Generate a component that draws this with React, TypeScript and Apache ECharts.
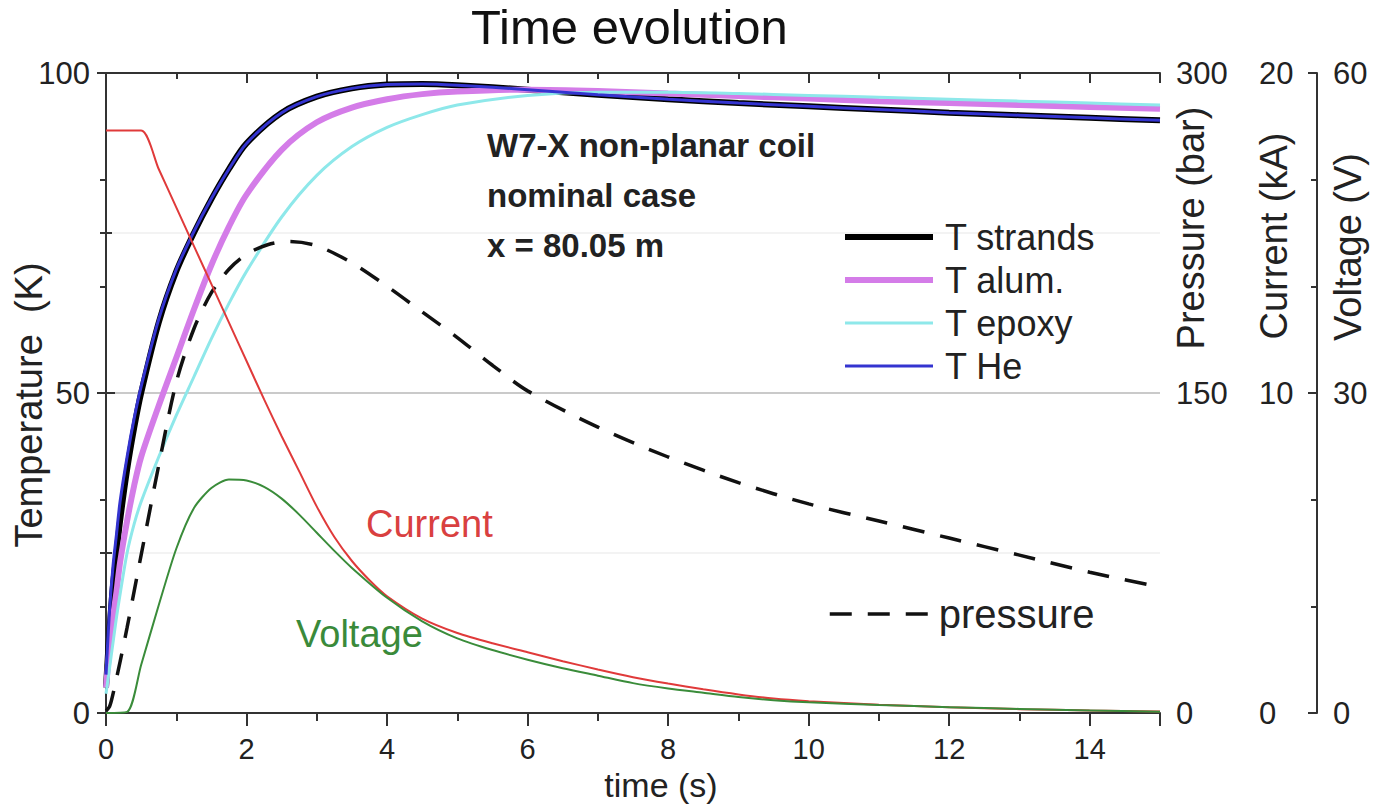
import React, { useEffect, useRef } from "react";
import * as echarts from "echarts";

// ---- data ----
const tTemp = [0, 0.05, 0.1, 0.15, 0.2, 0.3, 0.4, 0.5, 0.75, 1.0, 1.25, 1.5, 1.75, 2.0, 2.5, 3.0, 3.5, 4.0, 4.5, 5, 6, 7, 8, 9, 10, 11, 12, 13, 14, 15];
const tStrands = [4, 13, 20, 25, 30, 38, 44.5, 50, 61, 69, 75, 80.3, 85, 89, 93.8, 96.3, 97.6, 98.2, 98.3, 98.1, 97.4, 96.6, 95.9, 95.3, 94.8, 94.3, 93.8, 93.4, 93.0, 92.6];
const tAlum = [4, 10, 15, 19, 23.5, 30, 35.5, 40, 48, 55.5, 63, 70, 76, 81, 88, 92.3, 94.6, 95.9, 96.7, 97.1, 97.4, 97.2, 96.8, 96.4, 96.0, 95.6, 95.3, 95.0, 94.7, 94.4];
const tEpoxy = [3, 7, 11, 15, 18.5, 25, 29.5, 33, 40, 46.5, 52.5, 58.5, 64, 69, 77.5, 84, 88.5, 91.5, 93.5, 95, 96.5, 97.0, 97.0, 96.8, 96.5, 96.2, 95.9, 95.6, 95.3, 95.0];
const tHe = [6, 16, 23, 28, 33, 40, 46, 51, 61.5, 69.3, 75.2, 80.4, 85, 89, 93.8, 96.3, 97.6, 98.2, 98.3, 98.1, 97.4, 96.6, 95.9, 95.3, 94.8, 94.3, 93.8, 93.4, 93.0, 92.6];

const tPress = [0, 0.05, 0.1, 0.2, 0.3, 0.5, 0.75, 1.0, 1.25, 1.5, 1.75, 2.0, 2.3, 2.6, 3.0, 3.5, 4.0, 4.5, 5, 5.5, 6, 7, 8, 9, 10, 11, 12, 13, 14, 15];
const pressure = [1, 3, 9, 24, 40, 74, 116, 155, 180, 197, 208, 215, 219.5, 221, 219, 211, 200, 188, 176, 163, 151, 134, 120, 108, 98, 90, 82, 74, 66, 59];

const tCurr = [0, 0.5, 0.75, 1.0, 1.25, 1.5, 1.75, 2.0, 2.25, 2.5, 2.75, 3.0, 3.25, 3.5, 3.75, 4.0, 4.5, 5, 5.5, 6, 6.5, 7, 7.5, 8, 8.5, 9, 9.5, 10, 11, 12, 13, 14, 15];
const current = [18.2, 18.2, 17.0, 15.8, 14.6, 13.4, 12.2, 11.0, 9.8, 8.65, 7.55, 6.45, 5.5, 4.75, 4.15, 3.65, 2.95, 2.5, 2.18, 1.9, 1.62, 1.36, 1.12, 0.92, 0.74, 0.58, 0.45, 0.37, 0.26, 0.18, 0.12, 0.08, 0.05];

const tVolt = [0, 0.3, 0.5, 0.75, 1.0, 1.25, 1.5, 1.75, 2.0, 2.25, 2.5, 2.75, 3.0, 3.25, 3.5, 4.0, 4.5, 5, 5.5, 6, 6.5, 7, 7.5, 8, 8.5, 9, 9.5, 10, 11, 12, 13, 14, 15];
const voltage = [0, 0.1, 4.5, 10.1, 15.4, 19.2, 21.1, 21.9, 21.8, 21.2, 20.1, 18.6, 16.9, 15.2, 13.6, 10.8, 8.6, 7.0, 5.9, 5.0, 4.2, 3.5, 2.8, 2.3, 1.9, 1.5, 1.2, 1.0, 0.75, 0.55, 0.38, 0.24, 0.12];

const FONT = "'Liberation Sans', Arial, Helvetica, sans-serif";
const AX = "#333";
const TXT = "#222";

const zip = (t: number[], v: number[]) => t.map((x, i) => [x, v[i]]);

export default function App() {
  const ref = useRef<HTMLDivElement>(null);
  useEffect(() => {
    if (!ref.current) return;
    const chart = echarts.init(ref.current, undefined, { renderer: "svg" });
    const rightAxis = (name: string, max: number, interval: number, offset: number, minorSplit: number, shift: number) => ({
      type: "value",
      position: "right",
      offset,
      min: 0,
      max,
      interval,
      name,
      nameLocation: "middle",
      nameRotate: 90,
      nameGap: 12,
      nameMoveOverlap: false,
      nameTextStyle: { fontSize: 38, color: TXT, fontFamily: FONT, padding: [0, 0, 0, shift] },
      axisLine: { show: true, lineStyle: { color: AX, width: 2 } },
      axisTick: { show: true, inside: true, length: 9, lineStyle: { color: AX, width: 2 } },
      minorTick: { show: true, splitNumber: minorSplit, length: 6, lineStyle: { color: AX, width: 2 } },
      axisLabel: { fontSize: 31, color: TXT, fontFamily: FONT, margin: 16 },
      splitLine: { show: false },
    });
    const legendItem = (name: string, color: string, width: number, type: any = "solid") => ({
      name,
      itemStyle: { opacity: 0 },
      lineStyle: { color, width, type },
    });
    chart.setOption({
      animation: false,
      backgroundColor: "#fff",
      title: {
        text: "Time evolution",
        left: 471,
        top: 2,
        padding: 0,
        textStyle: { fontSize: 49, fontWeight: "normal", color: "#111", fontFamily: FONT },
      },
      grid: { left: 106, right: 215, top: 73, bottom: 91, containLabel: false, outerBoundsMode: "none" },
      legend: [
        {
          data: [
            legendItem("T strands", "#000", 6),
            legendItem("T alum.", "#d47ce8", 6),
            legendItem("T epoxy", "#8ee8ea", 3),
            legendItem("T He", "#3434d0", 3),
          ],
          orient: "vertical",
          left: 842,
          top: 219,
          padding: 0,
          itemWidth: 88,
          itemHeight: 14,
          itemGap: 7,
          selectedMode: false,
          itemStyle: { opacity: 0 },
          textStyle: { fontSize: 36, lineHeight: 36, color: TXT, fontFamily: FONT, padding: [0, 0, 0, 7] },
        },
        {
          data: [legendItem("pressure", "#111", 3.5, [22, 16])],
          orient: "vertical",
          left: 828,
          top: 594,
          padding: 0,
          itemWidth: 99,
          itemHeight: 14,
          selectedMode: false,
          itemStyle: { opacity: 0 },
          textStyle: { fontSize: 40, lineHeight: 36, color: TXT, fontFamily: FONT, padding: [0, 0, 0, 5] },
        },
      ],
      xAxis: [
        {
          type: "value",
          min: 0,
          max: 15,
          interval: 2,
          name: "time (s)",
          nameLocation: "middle",
          nameGap: 56,
          nameMoveOverlap: false,
          nameTextStyle: { fontSize: 34, lineHeight: 32, color: TXT, fontFamily: FONT, padding: [0, 0, 0, 56] },
          axisLine: { show: true, onZero: false, lineStyle: { color: AX, width: 2 } },
          axisTick: { show: true, inside: false, length: 13, lineStyle: { color: AX, width: 2 } },
          minorTick: { show: true, splitNumber: 2, length: 8, lineStyle: { color: AX, width: 2 } },
          axisLabel: { fontSize: 29, lineHeight: 28, color: TXT, fontFamily: FONT, margin: 22, showMaxLabel: false },
          splitLine: { show: false },
        },
        {
          type: "value",
          position: "top",
          min: 0,
          max: 15,
          interval: 2,
          axisLine: { show: true, onZero: false, lineStyle: { color: AX, width: 2 } },
          axisTick: { show: true, inside: true, length: 10, lineStyle: { color: AX, width: 2 } },
          minorTick: { show: true, splitNumber: 2, length: 6, lineStyle: { color: AX, width: 2 } },
          axisLabel: { show: false },
          splitLine: { show: false },
        },
      ],
      yAxis: [
        {
          type: "value",
          position: "left",
          min: 0,
          max: 100,
          interval: 50,
          name: "Temperature  (K)",
          nameLocation: "middle",
          nameRotate: 90,
          nameGap: 58,
          nameMoveOverlap: false,
          nameTextStyle: { fontSize: 38, color: TXT, fontFamily: FONT, padding: [0, 24, 0, 0] },
          axisLine: { show: true, onZero: false, lineStyle: { color: AX, width: 2 } },
          axisTick: { show: true, inside: true, length: 9, lineStyle: { color: AX, width: 2 } },
          minorTick: { show: true, splitNumber: 2, length: 6, lineStyle: { color: AX, width: 2 } },
          axisLabel: { fontSize: 31, color: TXT, fontFamily: FONT, margin: 16 },
          splitLine: { show: true, lineStyle: { color: "#b8b8b8", width: 1.5 } },
          minorSplitLine: { show: true, lineStyle: { color: "#efefef", width: 1.5 } },
        },
        rightAxis("Pressure (bar)", 300, 150, 0, 3, 330),
        rightAxis("Current (kA)", 20, 10, 83, 2, 314),
        rightAxis("Voltage (V)", 60, 30, 157, 3, 292),
      ],
      series: [
        {
          name: "T strands", type: "line", yAxisIndex: 0, symbol: "none", smooth: 0.3,
          data: zip(tTemp, tStrands),
          lineStyle: { color: "#000", width: 6 }, itemStyle: { color: "#000" }, z: 3,
        },
        {
          name: "T alum.", type: "line", yAxisIndex: 0, symbol: "none", smooth: 0.3,
          data: zip(tTemp, tAlum),
          lineStyle: { color: "#d47ce8", width: 6 }, itemStyle: { color: "#d47ce8" }, z: 3,
        },
        {
          name: "T epoxy", type: "line", yAxisIndex: 0, symbol: "none", smooth: 0.3,
          data: zip(tTemp, tEpoxy),
          lineStyle: { color: "#8ee8ea", width: 3 }, itemStyle: { color: "#8ee8ea" }, z: 3,
        },
        {
          name: "T He", type: "line", yAxisIndex: 0, symbol: "none", smooth: 0.3,
          data: zip(tTemp, tHe),
          lineStyle: { color: "#3434d0", width: 3 }, itemStyle: { color: "#3434d0" }, z: 3,
        },
        {
          name: "pressure", type: "line", yAxisIndex: 1, symbol: "none", smooth: 0.3,
          data: zip(tPress, pressure),
          lineStyle: { color: "#111", width: 3.5, type: [22, 16] }, itemStyle: { color: "#111" }, z: 3,
        },
        {
          name: "Current", type: "line", yAxisIndex: 2, symbol: "none", smooth: 0.25,
          data: zip(tCurr, current),
          lineStyle: { color: "#e03a3a", width: 2 }, itemStyle: { color: "#e03a3a" }, z: 3,
        },
        {
          name: "Voltage", type: "line", yAxisIndex: 3, symbol: "none", smooth: 0.25,
          data: zip(tVolt, voltage),
          lineStyle: { color: "#3a8c3a", width: 2 }, itemStyle: { color: "#3a8c3a" }, z: 3,
        },
      ],
      graphic: [
        {
          type: "text", left: 487, top: 120, z: 10,
          style: {
            text: "W7-X non-planar coil\nnominal case\nx = 80.05 m",
            font: `bold 33px ${FONT}`, fill: "#222", lineHeight: 50,
          },
        },
        {
          type: "text", left: 366, top: 505, z: 10,
          style: { text: "Current", font: `38px ${FONT}`, fill: "#d94040" },
        },
        {
          type: "text", left: 296, top: 615, z: 10,
          style: { text: "Voltage", font: `38px ${FONT}`, fill: "#3a8a3a" },
        },
      ],
    });
    return () => chart.dispose();
  }, []);
  return <div ref={ref} style={{ position: "absolute", left: 0, top: 0, width: 1375, height: 804 }} />;
}
